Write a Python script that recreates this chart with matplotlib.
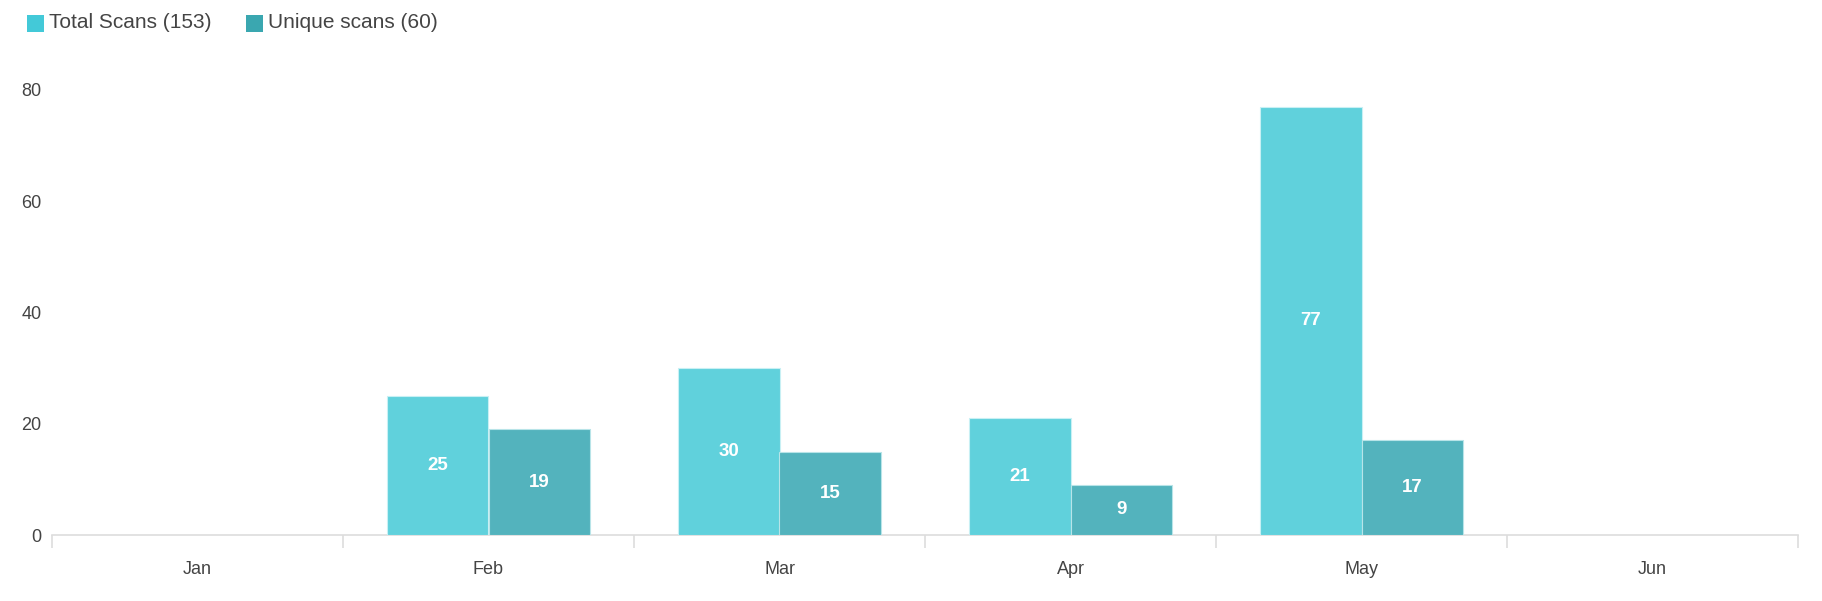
import matplotlib
matplotlib.use("Agg")
import matplotlib.pyplot as plt
import numpy as np

months = ["Jan", "Feb", "Mar", "Apr", "May", "Jun"]
total_scans = [0, 25, 30, 21, 77, 0]
unique_scans = [0, 19, 15, 9, 17, 0]
legend_labels = ["Total Scans (153)", "Unique scans (60)"]
y_ticks = [0, 20, 40, 60, 80]

plt.rcParams['font.family'] = ['Liberation Sans', 'DejaVu Sans']

W, H = 1822, 601
fig = plt.figure(figsize=(W / 100, H / 100), dpi=100)
left, right, top, bottom = 52, 1798, 90, 535
ax = fig.add_axes([left / W, 1 - bottom / H, (right - left) / W, (bottom - top) / H])

c_total = "#60d1dc"
c_unique = "#53b3bd"
leg_total = "#43c9d8"
leg_unique = "#3aa7b0"
text_col = "#444444"

x = np.arange(len(months))
bw = 0.35
for i, (t, u) in enumerate(zip(total_scans, unique_scans)):
    if t > 0:
        ax.bar(x[i] - bw / 2, t, bw, color=c_total, edgecolor="#c8f0f4", linewidth=0.8, zorder=3)
        ax.text(x[i] - bw / 2, t / 2, str(t), ha="center", va="center", color="white",
                fontsize=13.5, fontweight="bold", zorder=4)
    if u > 0:
        ax.bar(x[i] + bw / 2, u, bw, color=c_unique, edgecolor="#b8e4e8", linewidth=0.8, zorder=3)
        ax.text(x[i] + bw / 2, u / 2, str(u), ha="center", va="center", color="white",
                fontsize=13.5, fontweight="bold", zorder=4)

ax.set_xlim(-0.5, len(months) - 0.5)
ax.set_ylim(0, 80)
for s in ["top", "right", "left"]:
    ax.spines[s].set_visible(False)
ax.spines["bottom"].set_color("#dddddd")
ax.spines["bottom"].set_linewidth(1.2)

ax.set_xticks(x)
ax.set_xticklabels(months, color=text_col, fontsize=13)
ax.tick_params(axis="x", length=0, pad=18.5)
ax.set_xticks(np.arange(-0.5, len(months)), minor=True)
ax.tick_params(axis="x", which="minor", length=9, color="#dddddd", width=1.2)

ax.set_yticks(y_ticks)
ax.set_yticklabels([str(v) for v in y_ticks], color=text_col, fontsize=13)
ax.tick_params(axis="y", length=0, pad=7.5)

# legend
from matplotlib.patches import Rectangle
sq = 17
items = [(27, leg_total, legend_labels[0]), (246, leg_unique, legend_labels[1])]
for lx, col, lab in items:
    fig.patches.append(Rectangle((lx / W, 1 - 32 / H), sq / W, sq / H, transform=fig.transFigure,
                                 facecolor=col, edgecolor="none"))
    fig.text((lx + sq + 5) / W, 1 - 23 / H, lab, ha="left", va="center", fontsize=15, color=text_col)

fig.savefig("out.png", dpi=100, facecolor="white")
